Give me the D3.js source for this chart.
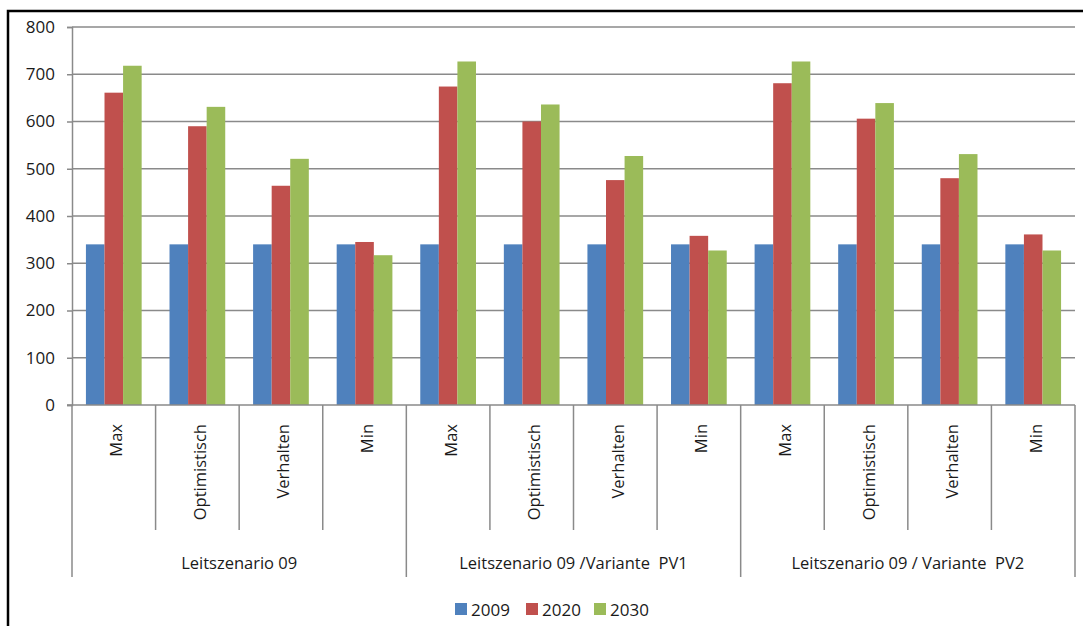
<!DOCTYPE html>
<html>
<head>
<meta charset="utf-8">
<script src="https://cdn.jsdelivr.net/npm/d3@7"></script>
<style>
  html, body { margin: 0; padding: 0; background: #fff; }
  svg { display: block; }
  text { font-family: "Open Sans", "Lato", sans-serif; fill: #1a1a1a; }
</style>
</head>
<body>
<svg id="chart" width="1083" height="626"></svg>
<script>
// ---- data ----
const groups = ["Leitszenario 09", "Leitszenario 09 /Variante  PV1", "Leitszenario 09 / Variante  PV2"];
const subCategories = ["Max", "Optimistisch", "Verhalten", "Min"];
const seriesNames = ["2009", "2020", "2030"];
const values2009 = [340, 340, 340, 340, 340, 340, 340, 340, 340, 340, 340, 340];
const values2020 = [661, 590, 464, 345, 674, 600, 476, 358, 681, 606, 480, 361];
const values2030 = [718, 631, 521, 317, 727, 636, 527, 327, 727, 639, 531, 327];
const yTicks = [0, 100, 200, 300, 400, 500, 600, 700, 800];
const colors = ["#4F81BD", "#C0504D", "#9BBB59"];

// ---- build ----
const categories = [];
groups.forEach((g, gi) => subCategories.forEach((s, si) => categories.push({ id: gi + "-" + si, group: g, gi, si, label: s })));
const seriesValues = [values2009, values2020, values2030];

const svg = d3.select("#chart");
const mLeft = 72, mRight = 1075, mTop = 27, mBottom = 405;

const x = d3.scaleBand().domain(categories.map(c => c.id)).range([mLeft, mRight]).paddingInner(0).paddingOuter(0);
const xInner = d3.scaleBand().domain(seriesNames).range([0, x.bandwidth()]).paddingInner(0).paddingOuter(0.75);
const y = d3.scaleLinear().domain([0, 800]).range([mBottom, mTop]);

// outer frame (partial border)
svg.append("path")
  .attr("d", `M8,626 L8,11 L1083,11`)
  .attr("fill", "none").attr("stroke", "#000").attr("stroke-width", 2.5);

// gridlines
svg.append("g").selectAll("line").data(yTicks.filter(d => d > 0)).join("line")
  .attr("x1", mLeft).attr("x2", mRight)
  .attr("y1", d => y(d)).attr("y2", d => y(d))
  .attr("stroke", "#8a8a8a").attr("stroke-width", 1.5);

// y axis
const yAxis = d3.axisLeft(y).tickValues(yTicks).tickSize(5).tickPadding(12).tickFormat(d3.format("d"));
const gy = svg.append("g").attr("transform", `translate(${mLeft},0)`).call(yAxis);
gy.select(".domain").attr("stroke", "#8a8a8a").attr("stroke-width", 1.5);
gy.selectAll(".tick line").attr("stroke", "#8a8a8a").attr("stroke-width", 1.5);
gy.selectAll(".tick text").style("font-size", "17px").attr("fill", "#1a1a1a")
  .style("font-family", "'Open Sans', Lato, sans-serif");

// bars
const barG = svg.append("g");
seriesNames.forEach((s, k) => {
  barG.append("g").selectAll("rect").data(categories).join("rect")
    .attr("x", c => x(c.id) + xInner(s))
    .attr("width", xInner.bandwidth())
    .attr("y", (c, i) => y(seriesValues[k][i]))
    .attr("height", (c, i) => y(0) - y(seriesValues[k][i]))
    .attr("fill", colors[k]);
});

// x axis baseline
svg.append("line").attr("x1", mLeft - 5).attr("x2", mRight).attr("y1", y(0)).attr("y2", y(0))
  .attr("stroke", "#8a8a8a").attr("stroke-width", 1.5);

// category separators
const boundaries = d3.range(0, categories.length + 1);
svg.append("g").selectAll("line").data(boundaries).join("line")
  .attr("x1", i => i < categories.length ? x(categories[i].id) : mRight)
  .attr("x2", i => i < categories.length ? x(categories[i].id) : mRight)
  .attr("y1", y(0))
  .attr("y2", i => (i % subCategories.length === 0) ? 577 : 530)
  .attr("stroke", "#8a8a8a").attr("stroke-width", 1.5);

// sub-category labels (rotated)
svg.append("g").selectAll("text").data(categories).join("text")
  .attr("transform", c => `translate(${x(c.id) + x.bandwidth() / 2 + 2},424) rotate(-90)`)
  .attr("text-anchor", "end")
  .attr("dominant-baseline", "central")
  .style("font-size", "16.5px")
  .text(c => c.label);

// group labels
svg.append("g").selectAll("text").data(groups).join("text")
  .attr("x", (g, gi) => {
    const a = x(categories[gi * subCategories.length].id);
    const b = gi === groups.length - 1 ? mRight : x(categories[(gi + 1) * subCategories.length].id);
    return (a + b) / 2;
  })
  .attr("y", 569)
  .attr("text-anchor", "middle")
  .style("font-size", "16.5px")
  .style("white-space", "pre")
  .text(g => g);

// legend
const legendX = [455, 526, 594];
const lg = svg.append("g");
seriesNames.forEach((s, k) => {
  lg.append("rect").attr("x", legendX[k]).attr("y", 603).attr("width", 12).attr("height", 12).attr("fill", colors[k]);
  lg.append("text").attr("x", legendX[k] + 16).attr("y", 615.5).style("font-size", "17px").text(s);
});
</script>
</body>
</html>
